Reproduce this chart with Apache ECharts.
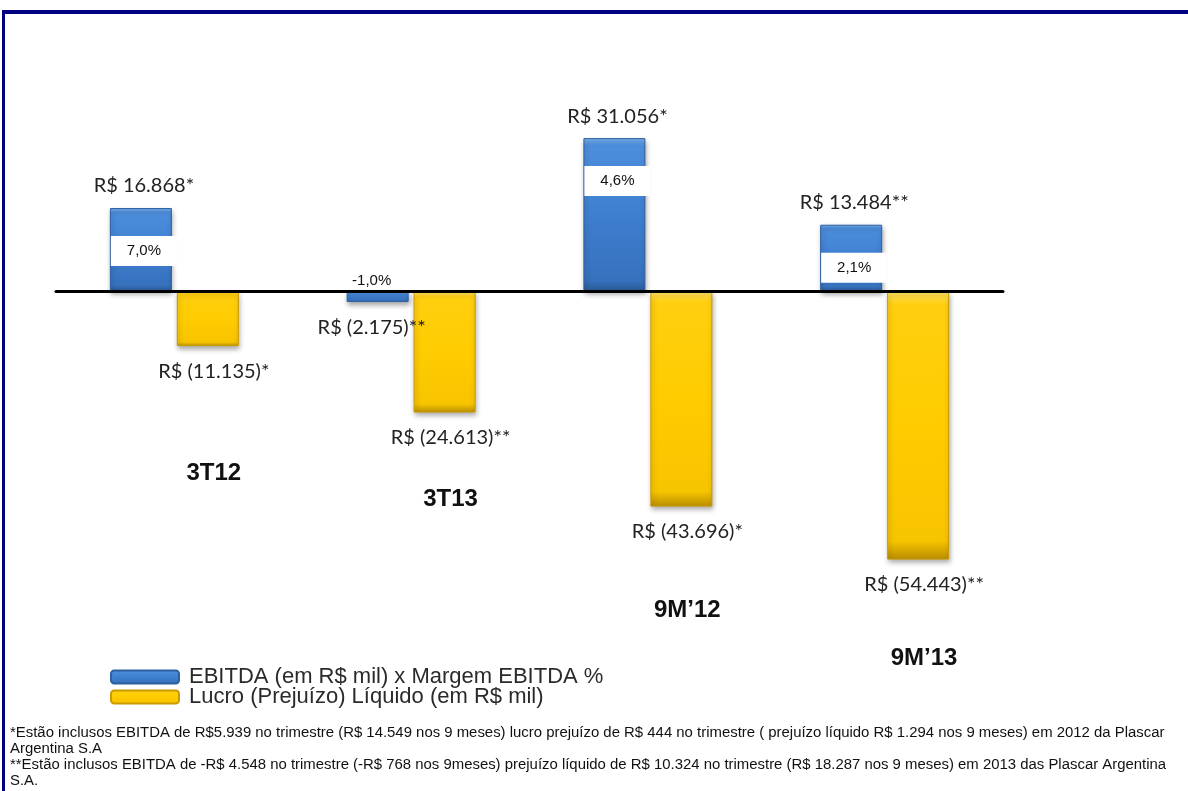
<!DOCTYPE html>
<html>
<head>
<meta charset="utf-8">
<script src="https://cdn.jsdelivr.net/npm/echarts@6/dist/echarts.min.js"></script>
<style>
  html, body { margin: 0; padding: 0; background: #fff; }
  #main { position: absolute; left: 0; top: 0; width: 1188px; height: 791px; }
  #frame {
    position: absolute; left: 2px; top: 10px; right: 0; bottom: 0;
    border-top: 4px solid #000080; border-left: 3px solid #000080;
    pointer-events: none;
  }
</style>
</head>
<body>
<div id="main"></div>
<div id="frame"></div>
<script>
// valores em R$ mil
const categories = ['3T12', '3T13', '9M\u201912', '9M\u201913'];
const ebitda = [16868, -2175, 31056, 13484];
const ebitdaMargin = [7.0, -1.0, 4.6, 2.1];
const lucro = [-11135, -24613, -43696, -54443];
const ebitdaNote = ['*', '**', '*', '**'];
const lucroNote = ['*', '**', '*', '**'];
const legendNames = ['EBITDA (em R$ mil) x Margem EBITDA %', 'Lucro (Preju\u00edzo) L\u00edquido (em R$ mil)'];
const footnotes = [
  '*Est\u00e3o inclusos EBITDA de R$5.939 no trimestre (R$ 14.549 nos 9 meses) lucro preju\u00edzo de R$ 444 no trimestre ( preju\u00edzo l\u00edquido R$ 1.294 nos 9 meses) em 2012 da Plascar',
  'Argentina S.A',
  '**Est\u00e3o inclusos EBITDA de -R$ 4.548 no trimestre (-R$ 768 nos 9meses) preju\u00edzo l\u00edquido de R$ 10.324 no trimestre (R$ 18.287 nos 9 meses) em 2013 das Plascar Argentina',
  'S.A.'
];

// layout: distance between value label and period label under the yellow bars
const catLabelGap = [77, 37, 54, 49];

const fmt = (v) => {
  const s = String(Math.abs(v)).replace(/\B(?=(\d{3})+(?!\d))/g, '.');
  return v < 0 ? 'R$ (' + s + ')' : 'R$ ' + s;
};
const fmtPct = (v) => v.toFixed(1).replace('.', ',') + '%';

const myChart = echarts.init(document.getElementById('main'));

const blue = new echarts.graphic.LinearGradient(0, 0, 0, 1, [
  { offset: 0, color: '#79b2ef' },
  { offset: 0.05, color: '#4d8edc' },
  { offset: 0.5, color: '#3f7fd0' },
  { offset: 0.93, color: '#3671bd' },
  { offset: 1, color: '#2a5894' }
]);
const yellow = new echarts.graphic.LinearGradient(0, 0, 0, 1, [
  { offset: 0, color: '#ffe066' },
  { offset: 0.05, color: '#ffcf10' },
  { offset: 0.5, color: '#ffcc00' },
  { offset: 0.93, color: '#f7c400' },
  { offset: 1, color: '#b98e00' }
]);

const valueFont = 'Lato, "Noto Sans", sans-serif';

const ebitdaData = ebitda.map((v, i) => {
  if (v >= 0) {
    return {
      value: v,
      label: {
        position: 'insideTop',
        offset: [3, -38],
        formatter: '{v|' + fmt(v) + ebitdaNote[i] + '}\n{s|}\n{p|' + fmtPct(ebitdaMargin[i]) + '}'
      }
    };
  }
  return {
    value: v,
    label: {
      position: 'insideTop',
      offset: [-6, -26],
      formatter: '{q|' + fmtPct(ebitdaMargin[i]) + '}\n{t|}\n{v|' + fmt(v) + ebitdaNote[i] + '}'
    }
  };
});

const lucroRich = {
  v: { fontFamily: valueFont, fontSize: 20, lineHeight: 22, color: '#222' },
  c: { fontFamily: '"Liberation Sans", Arial, sans-serif', fontWeight: 'bold', fontSize: 24, lineHeight: 28, color: '#111' }
};
catLabelGap.forEach((g) => { lucroRich['g' + g] = { height: g, lineHeight: g }; });

const lucroData = lucro.map((v, i) => ({
  value: v,
  label: {
    formatter: '{v|' + fmt(v) + lucroNote[i] + '}\n{g' + catLabelGap[i] + '|}\n{c|' + categories[i] + '}'
  }
}));

const option = {
  backgroundColor: '#ffffff',
  animation: false,
  grid: { left: 56, right: 185, top: 94, bottom: 204 },
  xAxis: {
    type: 'category',
    data: categories,
    z: 10,
    axisLine: { onZero: true, lineStyle: { color: '#000', width: 3 } },
    axisTick: { show: false },
    axisLabel: { show: false },
    splitLine: { show: false }
  },
  yAxis: {
    type: 'value',
    min: -60000,
    max: 40000,
    show: false,
    splitLine: { show: false }
  },
  legend: {
    orient: 'vertical',
    left: 110,
    top: 666,
    padding: 0,
    itemWidth: 68,
    itemHeight: 13,
    itemGap: -2,
    icon: 'roundRect',
    data: legendNames,
    textStyle: {
      fontFamily: '"Liberation Sans", Arial, sans-serif',
      fontSize: 22,
      color: '#2a2a2a',
      padding: [0, 0, 0, 5]
    }
  },
  series: [
    {
      name: legendNames[0],
      type: 'bar',
      barWidth: 62,
      barGap: '8%',
      data: ebitdaData,
      itemStyle: {
        color: blue,
        borderColor: '#2e5f9f',
        borderWidth: 1,
        shadowColor: 'rgba(0,0,0,0.35)',
        shadowBlur: 5,
        shadowOffsetX: 1,
        shadowOffsetY: 3
      },
      label: {
        show: true,
        rich: {
          v: { fontFamily: valueFont, fontSize: 20, lineHeight: 22, color: '#222' },
          s: { height: 39, lineHeight: 39 },
          t: { height: 24, lineHeight: 24 },
          p: {
            fontFamily: '"Liberation Sans", Arial, sans-serif', fontSize: 15, color: '#111',
            backgroundColor: '#ffffff', width: 66, height: 30, lineHeight: 30, align: 'center'
          },
          q: { fontFamily: '"Liberation Sans", Arial, sans-serif', fontSize: 15, lineHeight: 22, color: '#111' }
        }
      }
    },
    {
      name: legendNames[1],
      type: 'bar',
      barWidth: 62,
      data: lucroData,
      itemStyle: {
        color: yellow,
        borderColor: '#c99b00',
        borderWidth: 1,
        shadowColor: 'rgba(0,0,0,0.35)',
        shadowBlur: 5,
        shadowOffsetX: 1,
        shadowOffsetY: 3
      },
      label: {
        show: true,
        position: 'bottom',
        offset: [6, 9],
        rich: lucroRich
      }
    }
  ],
  graphic: [
    {
      type: 'text',
      left: 10,
      top: 725,
      scaleX: 1.065,
      style: {
        text: footnotes.join('\n'),
        fontFamily: '"Liberation Sans", Arial, sans-serif',
        fontSize: 14,
        lineHeight: 16,
        fill: '#111'
      }
    }
  ]
};

myChart.setOption(option);
</script>
</body>
</html>
